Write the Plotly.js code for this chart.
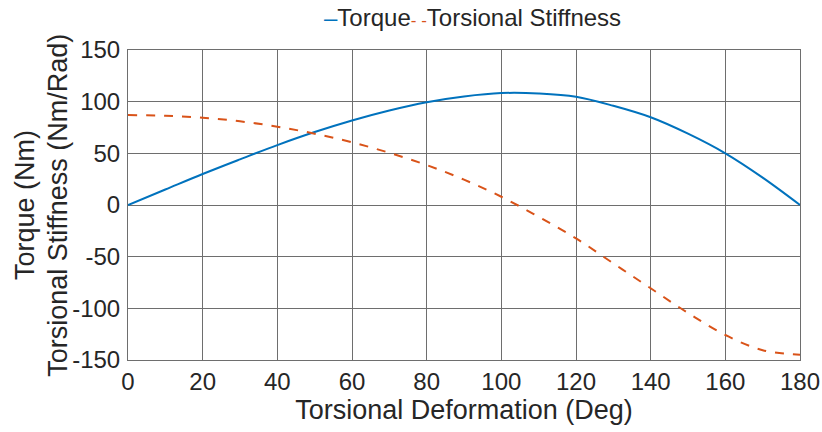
<!DOCTYPE html>
<html><head><meta charset="utf-8">
<script src="https://cdn.plot.ly/plotly-3.0.1.min.js"></script>
<style>html,body{margin:0;padding:0;background:#fff}#c{width:822px;height:432px}</style>
</head><body><div id="c"></div>
<script>
const deg = [0,10,20,30,40,50,60,70,80,90,100,110,120,130,140,150,160,170,180];
const torque = [0,15,30,44.2,58,70.6,81.8,91.5,99.5,105,108.3,107.9,104.8,96,84.9,69,50,26.5,0];
const stiffness = [87,86.3,84.5,81,75.8,69,60.7,50.5,38.7,24.5,8,-11.5,-32.3,-56.5,-80.6,-104.5,-125.8,-140.5,-145];
const seriesNames = ["Torque", "Torsional Stiffness"];
const xTicks = [0,20,40,60,80,100,120,140,160,180];
const yTicks = [-150,-100,-50,0,50,100,150];
const yTitleLines = ["Torque (Nm)", "Torsional Stiffness (Nm/Rad)"];

const font = "Liberation Sans, Arial, sans-serif";
const blue = "#0072BD", orange = "#D95319", txt = "#262626", grid = "#6e6e6e";
const data = [
  {x: deg, y: torque, name: seriesNames[0], mode: "lines", line: {color: blue, width: 2, shape: "spline"}},
  {x: deg, y: stiffness, name: seriesNames[1], mode: "lines", line: {color: orange, width: 2, dash: "dash", shape: "spline"}}
];
const legendText = `<span style="color:${blue}">–</span>${seriesNames[0]}` +
  `<span style="color:${orange};font-size:17px">- -</span>${seriesNames[1]}`;
const layout = {
  width: 822, height: 432,
  margin: {l: 128, r: 22, t: 50, b: 72},
  paper_bgcolor: "#fff", plot_bgcolor: "#fff",
  font: {family: font, color: txt},
  showlegend: false,
  annotations: [
    {text: legendText, xref: "paper", yref: "paper", x: 0.513, y: 1.106, xanchor: "center", yanchor: "middle",
      showarrow: false, font: {size: 24, color: txt}},
    {text: yTitleLines[0], xref: "paper", yref: "paper", x: -0.1533, y: 0.5, xanchor: "center", yanchor: "middle",
      textangle: -90, showarrow: false, font: {size: 27, color: txt}},
    {text: yTitleLines[1], xref: "paper", yref: "paper", x: -0.1045, y: 0.5, xanchor: "center", yanchor: "middle",
      textangle: -90, showarrow: false, font: {size: 27, color: txt}}
  ],
  xaxis: {range: [0, 180], tickvals: xTicks, ticktext: xTicks.map(String), showgrid: true, gridcolor: grid, gridwidth: 1,
    showline: true, linecolor: grid, mirror: true, zeroline: false, ticks: "", tickfont: {size: 24, color: txt},
    title: {text: "Torsional Deformation (Deg)", font: {size: 27, color: txt}, standoff: 5}},
  yaxis: {range: [-150, 150], tickvals: yTicks, ticktext: yTicks.map(String), showgrid: true, gridcolor: grid, gridwidth: 1,
    showline: true, linecolor: grid, mirror: true, zeroline: false, ticks: "", tickfont: {size: 24, color: txt}, ticklabelstandoff: 2}
};
Plotly.newPlot("c", data, layout, {displayModeBar: false, staticPlot: true});
</script></body></html>
